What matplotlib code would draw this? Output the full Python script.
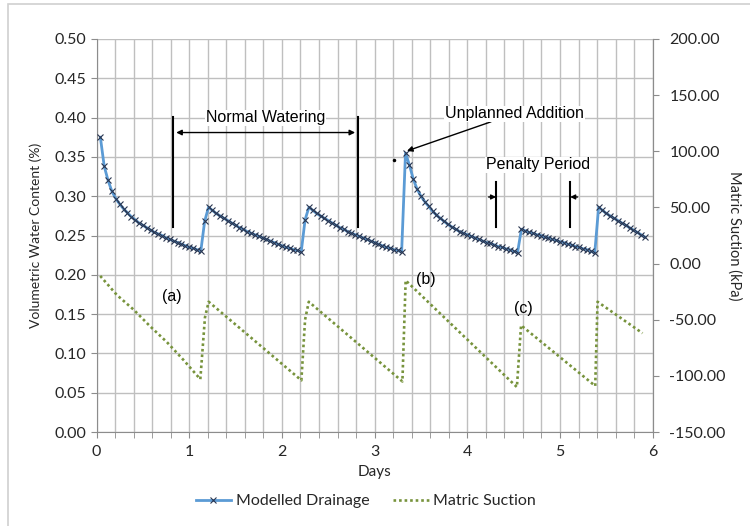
import numpy as np
import matplotlib
matplotlib.use('Agg')
from matplotlib import pyplot as plt
from matplotlib.lines import Line2D
from matplotlib.patches import Rectangle

#################### DATA ####################################################################
# modelled drainage, one reading per hour (hour 1 .. 142)
hours = np.arange(1, 143)
vwc = [0.375, 0.338, 0.320, 0.306, 0.297, 0.290, 0.284, 0.279, 0.274, 0.270,
       0.266, 0.263, 0.260, 0.257, 0.254, 0.252, 0.250, 0.247, 0.245, 0.243,
       0.241, 0.239, 0.237, 0.235, 0.234, 0.232, 0.230,
       0.268,
       0.286, 0.282, 0.278, 0.275, 0.272, 0.269, 0.266, 0.263, 0.260, 0.258,
       0.255, 0.253, 0.251, 0.249, 0.247, 0.245, 0.243, 0.241, 0.239, 0.237,
       0.235, 0.234, 0.232, 0.231, 0.229,
       0.270,
       0.286, 0.282, 0.278, 0.275, 0.272, 0.269, 0.266, 0.263, 0.260, 0.258,
       0.255, 0.253, 0.251, 0.249, 0.247, 0.245, 0.243, 0.241, 0.239, 0.237,
       0.235, 0.234, 0.232, 0.231, 0.229,
       0.355, 0.340, 0.322, 0.309, 0.300, 0.293, 0.287, 0.281, 0.276, 0.272,
       0.268, 0.264, 0.261, 0.258, 0.255, 0.253, 0.251, 0.249, 0.247, 0.245,
       0.243, 0.241, 0.240, 0.238, 0.236, 0.235, 0.233, 0.232, 0.230, 0.228,
       0.258, 0.256, 0.254, 0.253, 0.251, 0.250, 0.248, 0.247, 0.245, 0.244,
       0.242, 0.241, 0.239, 0.238, 0.236, 0.235, 0.233, 0.232, 0.230, 0.228,
       0.286, 0.282, 0.278, 0.275, 0.272, 0.269, 0.266, 0.263, 0.260, 0.257,
       0.254, 0.251, 0.248]

# matric suction (kPa) read at the turning points of the curve
suct_days = [0.04, 0.22, 0.40, 0.58, 0.76, 0.94, 1.12, 1.17, 1.21,
             2.21, 2.25, 2.29, 3.30, 3.335, 4.535, 4.58, 5.38, 5.405, 5.89]
suct_kpa = [-11, -28, -41, -56, -70, -86, -103, -48, -34,
            -104, -50, -34, -105, -15, -110, -55, -109, -34, -62]

left_ticks = np.arange(0, 0.501, 0.05)
right_ticks = np.arange(-150, 201, 50)
###############################################################################################

blue = '#5B9BD5'
green = '#77933C'
grid_c = '#BFBFBF'
spine_c = '#8C8C8C'
txt_c = '#262626'
xl_font = 'Lato'
ann_font = 'Liberation Sans'

days = hours / 24

fig = plt.figure(figsize=(7.5, 5.26), dpi=100)
# chart border (only left and top edges fall inside the picture)
fig.patches.append(Rectangle((8/750, -0.5), 2, 1.5 - 4/526, transform=fig.transFigure,
                             fill=False, edgecolor='#D0D0D0', lw=1.2))
ax = fig.add_axes([96.5/750, 94/526, 556.2/750, 393/526])
ax2 = ax.twinx()

ax.plot(days, vwc, color=blue, lw=2, marker='x', ms=4.5, mec='#2A3650', mew=0.8, zorder=3)
ax2.plot(suct_days, suct_kpa, color=green, lw=1.9, ls=(0, (1, 1.1)), zorder=3)

ax.set_xlim(0, 6)
ax.set_ylim(0, 0.5)
ax2.set_ylim(-150, 200)
ax.set_xticks(range(7))
ax.set_xticks(np.arange(0, 6.01, 0.2), minor=True)
ax.set_yticks(left_ticks)
ax.set_yticklabels(['%.2f' % v for v in left_ticks])
ax2.set_yticks(right_ticks)
ax2.set_yticklabels(['%.2f' % v for v in right_ticks])

ax.grid(True, which='both', axis='x', color=grid_c, lw=1)
ax.grid(True, which='major', axis='y', color=grid_c, lw=1)
ax.set_axisbelow(True)

for a in (ax, ax2):
    a.spines['top'].set_visible(False)
    for s in ('left', 'right', 'bottom'):
        a.spines[s].set_color(spine_c)
ax2.spines['left'].set_visible(False)
ax2.spines['bottom'].set_visible(False)

ax.tick_params(axis='both', which='both', direction='out', color=spine_c, length=4,
               labelsize=11.5, labelcolor=txt_c)
ax.tick_params(axis='x', pad=5)
ax2.tick_params(axis='y', direction='out', color=spine_c, length=4, labelsize=11.5,
                labelcolor=txt_c, pad=8)
for lab in ax.get_xticklabels() + ax.get_yticklabels() + ax2.get_yticklabels():
    lab.set_family(xl_font)

ax.set_xlabel('Days', fontsize=11, family=xl_font, color=txt_c, labelpad=5)
ax.set_ylabel('Volumetric Water Content (%)', fontsize=10, family=xl_font, color=txt_c, labelpad=9)
ax2.set_ylabel('Matric Suction (kPa)', fontsize=10.5, family=xl_font, color=txt_c, rotation=-90, labelpad=11)

# Normal Watering
for xb in (0.83, 2.82):
    ax.plot([xb, xb], [0.261, 0.401], color='black', lw=1.5, zorder=4)
ax.annotate('', xy=(0.83, 0.381), xytext=(2.82, 0.381),
            arrowprops=dict(arrowstyle='<|-|>', color='black', lw=1, mutation_scale=8), zorder=4)
ax.text(1.82, 0.3995, 'Normal Watering', ha='center', va='center', fontsize=11.5,
        family=ann_font, zorder=5,
        bbox=dict(facecolor='white', edgecolor='none', pad=0.5))

# Unplanned Addition
ax.annotate('Unplanned Addition', xy=(3.335, 0.357), xytext=(3.76, 0.405),
            ha='left', va='center', fontsize=11.5, family=ann_font, zorder=5,
            bbox=dict(facecolor='white', edgecolor='none', pad=0.5),
            arrowprops=dict(arrowstyle='-|>', color='black', lw=1, mutation_scale=8,
                            shrinkA=0, shrinkB=1))
ax.plot([3.21], [0.346], 'o', color='black', ms=1.5, zorder=4)

# Penalty Period
for xb in (4.31, 5.11):
    ax.plot([xb, xb], [0.261, 0.318], color='black', lw=1.5, zorder=4)
ax.annotate('', xy=(4.31, 0.299), xytext=(4.23, 0.299),
            arrowprops=dict(arrowstyle='-|>', color='black', lw=1, mutation_scale=7,
                            shrinkA=0, shrinkB=0), zorder=4)
ax.annotate('', xy=(5.11, 0.299), xytext=(5.19, 0.299),
            arrowprops=dict(arrowstyle='-|>', color='black', lw=1, mutation_scale=7,
                            shrinkA=0, shrinkB=0), zorder=4)
ax.text(4.76, 0.34, 'Penalty Period', ha='center', va='center', fontsize=11.5,
        family=ann_font, zorder=5, bbox=dict(facecolor='white', edgecolor='none', pad=0.5))

ax.text(0.81, 0.172, '(a)', ha='center', va='center', fontsize=11.5, family=ann_font)
ax.text(3.55, 0.194, '(b)', ha='center', va='center', fontsize=11.5, family=ann_font)
ax.text(4.60, 0.157, '(c)', ha='center', va='center', fontsize=11.5, family=ann_font)

handles = [Line2D([], [], color=blue, lw=2, marker='x', ms=4.5, mec='#2A3650', mew=0.8),
           Line2D([], [], color=green, lw=1.9, ls=(0, (1, 1.1)))]
leg = fig.legend(handles, ['Modelled Drainage', 'Matric Suction'], loc='center',
                 bbox_to_anchor=(366/750, 25/526), ncol=2, frameon=False,
                 handlelength=2.2, handletextpad=0.3, columnspacing=1.5,
                 prop={'family': xl_font, 'size': 11.5})
for t in leg.get_texts():
    t.set_color(txt_c)

fig.savefig('out.png', dpi=100)
